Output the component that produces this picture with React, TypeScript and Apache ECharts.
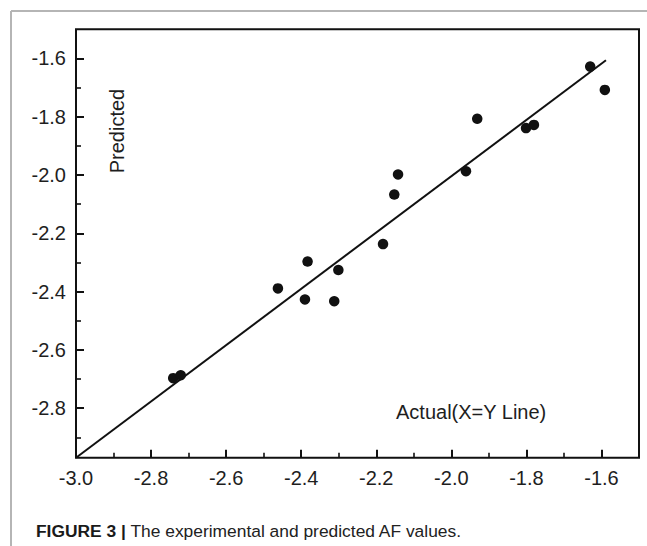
import React, { useEffect, useRef } from "react";
import * as echarts from "echarts";

const actualValues = [-2.741, -2.721, -2.462, -2.383, -2.39, -2.312, -2.301, -2.182, -2.152, -2.142, -1.961, -1.931, -1.801, -1.78, -1.63, -1.591];
const predictedValues = [-2.697, -2.687, -2.389, -2.297, -2.427, -2.433, -2.326, -2.237, -2.067, -1.998, -1.987, -1.807, -1.839, -1.828, -1.628, -1.708];
const lineX = [-3.0, -1.588];
const lineY = [-2.97, -1.606];
const xMajorTicks = [-3.0, -2.8, -2.6, -2.4, -2.2, -2.0, -1.8, -1.6];
const xMinorTicks = [-2.9, -2.7, -2.5, -2.3, -2.1, -1.9, -1.7];
const yMajorTicks = [-2.8, -2.6, -2.4, -2.2, -2.0, -1.8, -1.6];
const yMinorTicks = [-2.9, -2.7, -2.5, -2.3, -2.1, -1.9, -1.7];
const xRange = [-3.0, -1.5];
const yRange = [-2.97, -1.5];
const yTitle = "Predicted";
const lineLabel = "Actual(X=Y Line)";
const captionBold = "FIGURE 3 |";
const captionText = " The experimental and predicted AF values.";

const FONT = '"Liberation Sans", Arial, Helvetica, sans-serif';
const INK = "#111";

export default function App() {
  const ref = useRef<HTMLDivElement>(null);
  useEffect(() => {
    if (!ref.current) return;
    const chart = echarts.init(ref.current, null, { renderer: "svg" });
    const fmt = (v: number) => v.toFixed(1);
    const baseAxis = (range: number[]) => ({
      type: "value",
      min: range[0],
      max: range[1],
      splitLine: { show: false },
      axisLine: { show: false },
    });
    chart.setOption({
      animation: false,
      backgroundColor: "#fff",
      grid: {
        left: 76,
        top: 29.3,
        right: 8,
        bottom: 88.3,
        show: true,
        borderColor: INK,
        borderWidth: 2,
        backgroundColor: "transparent",
        outerBoundsMode: "none",
      },
      xAxis: [
        {
          ...baseAxis(xRange),
          position: "bottom",
          axisTick: { show: true, inside: true, length: 8, lineStyle: { color: INK, width: 2 }, customValues: xMajorTicks },
          axisLabel: { show: true, customValues: xMajorTicks, formatter: fmt, margin: 10, fontSize: 20, color: "#1e1e1e", fontFamily: FONT },
        },
        {
          ...baseAxis(xRange),
          position: "bottom",
          offset: 0,
          axisTick: { show: true, inside: true, length: 5, lineStyle: { color: INK, width: 1.6 }, customValues: xMinorTicks },
          axisLabel: { show: false },
        },
      ],
      yAxis: [
        {
          ...baseAxis(yRange),
          position: "left",
          axisTick: { show: true, inside: true, length: 8, lineStyle: { color: INK, width: 2 }, customValues: yMajorTicks },
          axisLabel: { show: true, customValues: yMajorTicks, formatter: fmt, margin: 10, fontSize: 20, color: "#1e1e1e", fontFamily: FONT },
        },
        {
          ...baseAxis(yRange),
          position: "left",
          offset: 0,
          axisTick: { show: true, inside: true, length: 5, lineStyle: { color: INK, width: 1.6 }, customValues: yMinorTicks },
          axisLabel: { show: false },
        },
      ],
      series: [
        {
          type: "line",
          xAxisIndex: 0,
          yAxisIndex: 0,
          data: lineX.map((x, i) => [x, lineY[i]]),
          showSymbol: false,
          symbol: "none",
          lineStyle: { color: INK, width: 2 },
          silent: true,
          z: 2,
        },
        {
          type: "scatter",
          xAxisIndex: 0,
          yAxisIndex: 0,
          data: actualValues.map((x, i) => [x, predictedValues[i]]),
          symbol: "circle",
          symbolSize: 10.5,
          itemStyle: { color: INK, opacity: 1 },
          z: 3,
        },
      ],
      graphic: [
        { type: "line", shape: { x1: 11, y1: 11, x2: 647, y2: 11 }, style: { stroke: "#b5b5b5", lineWidth: 2 } },
        { type: "line", shape: { x1: 11, y1: 11, x2: 11, y2: 546 }, style: { stroke: "#b5b5b5", lineWidth: 2 } },
        {
          type: "text",
          x: 117,
          y: 131,
          rotation: Math.PI / 2,
          style: { text: yTitle, fontSize: 20, fontFamily: FONT, fill: "#1e1e1e", align: "center", verticalAlign: "middle" },
        },
        {
          type: "text",
          x: 396,
          y: 412,
          style: { text: lineLabel, fontSize: 20, fontFamily: FONT, fill: "#1e1e1e", align: "left", verticalAlign: "middle" },
        },
        {
          type: "text",
          x: 36,
          y: 531,
          style: {
            text: "{b|" + captionBold + "}{r|" + captionText + "}",
            fontFamily: FONT,
            verticalAlign: "middle",
            align: "left",
            rich: {
              b: { fontSize: 17.4, fontWeight: "bold", fill: "#1a1a1a", fontFamily: FONT },
              r: { fontSize: 17.4, fill: "#222", fontFamily: FONT },
            },
          },
        },
      ],
    });
    return () => chart.dispose();
  }, []);
  return <div ref={ref} style={{ position: "absolute", left: 0, top: 0, width: 647, height: 546 }} />;
}
